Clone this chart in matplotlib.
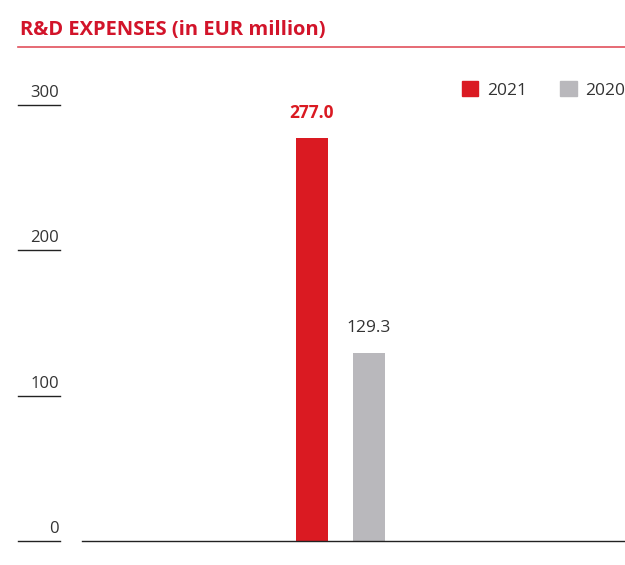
import matplotlib.pyplot as plt
from matplotlib.patches import Patch

# data
years = ['2021', '2020']
values = [277.0, 129.3]
value_labels = ['277.0', '129.3']
yticks = [0, 100, 200, 300]

red = '#DA1A22'
grey = '#B9B8BC'
colors = [red, grey]
plt.rcParams['font.family'] = ['Open Sans', 'DejaVu Sans']

W, H = 625, 565
fig = plt.figure(figsize=(W / 100, H / 100), dpi=100)
# axes area in pixels: x 82..625, y 105 (300) .. 541 (0)
ax = fig.add_axes([82 / W, (H - 541) / H, (625 - 82) / W, (541 - 105) / H])

# bars, one group, 57 px between centres
xs = [-0.5, 0.5]
ax.bar(xs, values, width=0.56, color=colors, zorder=2)
ax.set_xlim((82 - 340.5) / 57, (625 - 340.5) / 57)
ax.set_ylim(0, 300)

for x, v, lab, c in zip(xs, values, value_labels, colors):
    ax.annotate(lab, (x, v), xytext=(0, 12), textcoords='offset points',
                ha='center', va='bottom', fontsize=12.5,
                color=red if c == red else '#333333',
                fontweight='bold' if c == red else 'normal')

for s in ['top', 'right', 'left']:
    ax.spines[s].set_visible(False)
ax.spines['bottom'].set_color('#222222')
ax.spines['bottom'].set_linewidth(1.0)
ax.set_xticks([])
ax.set_yticks([])

# y labels with short underlines on the left
tr = ax.get_yaxis_transform()
for t in yticks:
    ax.plot([(18 - 82) / 543, (60 - 82) / 543], [t, t], transform=tr,
            color='#222222', lw=1.0, clip_on=False)
    ax.annotate(str(t), ((59 - 82) / 543, t), xycoords=tr, xytext=(0, 3),
                textcoords='offset points', ha='right', va='bottom',
                fontsize=12, color='#333333', annotation_clip=False)

# title and red rule
fig.text(20 / W, 1 - 30 / H, 'R&D EXPENSES (in EUR million)', color='#D2142A',
         fontsize=14.5, fontweight='bold', va='center', ha='left')
fig.add_artist(plt.Line2D([18 / W, 1], [1 - 47 / H, 1 - 47 / H],
                          transform=fig.transFigure, color='#E2505C', lw=1.2))

handles = [Patch(color=c) for c in colors]
fig.legend(handles, years, loc='center left', bbox_to_anchor=(462 / W, 1 - 90 / H),
           ncol=2, frameon=False, fontsize=12.5, handlelength=0.95,
           handleheight=0.95, handletextpad=0.5, columnspacing=1.9,
           borderaxespad=0, borderpad=0, labelcolor='#333333')

fig.savefig('out.png', dpi=100)
